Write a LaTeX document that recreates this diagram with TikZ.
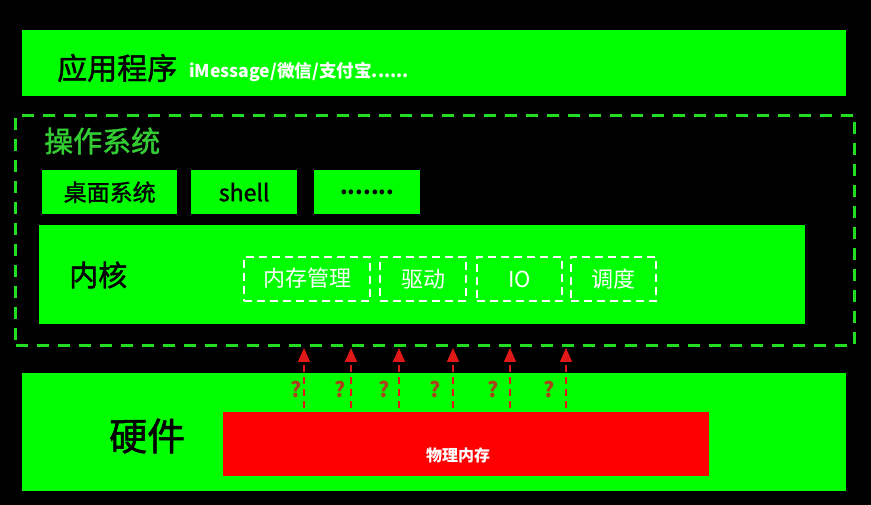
\documentclass[tikz,border=0pt]{standalone}
\usepackage{fontspec}
\setmainfont{Noto Sans CJK SC}
\newfontfamily\medf[FakeBold=1.5]{Noto Sans CJK SC}
\usetikzlibrary{arrows.meta}
\definecolor{lgreen}{HTML}{00FF00}
\definecolor{dgreen}{HTML}{22DD22}
\definecolor{tgreen}{HTML}{33CC33}
\definecolor{aread}{HTML}{E01818}
\definecolor{qbrown}{HTML}{A8421C}
\definecolor{mred}{HTML}{FF0000}
\tikzset{
  gbox/.style={draw=none,fill=lgreen,inner sep=0pt},
  wdash/.style={draw=white,line width=2pt,dash pattern=on 8pt off 5pt,inner sep=0pt,minimum height=44pt,text=white,font=\fontsize{22}{22}\selectfont},
  upar/.style={draw=aread,line width=1.6pt,dash pattern=on 7pt off 5pt,-{Triangle[width=12pt,length=14pt]}},
  qm/.style={text=qbrown,font=\fontsize{21}{21}\selectfont\bfseries,inner sep=0pt}
}
\begin{document}
\begin{tikzpicture}[x=1pt,y=-1pt]
\fill[black] (0,0) rectangle (871,505);
\useasboundingbox (0,0) rectangle (871,505);
% application bar
\node[gbox,minimum width=824pt,minimum height=66pt,anchor=north west] (app) at (22,30) {};
\node[anchor=west,inner sep=0pt,font=\fontsize{30}{30}\selectfont\medf] (apptitle) at (57,68) {应用程序};
\node[anchor=west,inner sep=0pt,text=white,font=\fontsize{17.6}{17.6}\selectfont\bfseries] (appex) at (189,72) {iMessage/微信/支付宝......};
% OS dashed box
\node[draw=dgreen,line width=3pt,dash pattern=on 12pt off 9pt,minimum width=839pt,minimum height=230pt,anchor=north west,inner sep=0pt] (os) at (14,114) {};
\node[anchor=west,inner sep=0pt,text=tgreen,font=\fontsize{29}{29}\selectfont\medf] (ostitle) at (44,141) {操作系统};
\node[gbox,minimum width=135pt,minimum height=44pt,anchor=north west,font=\fontsize{23}{23}\selectfont\medf] (desk) at (42,170) {\raisebox{-3pt}{桌面系统}};
\node[gbox,minimum width=106pt,minimum height=44pt,anchor=north west,font=\fontsize{23}{23}\selectfont\medf] (shell) at (191,170) {shell};
\node[gbox,minimum width=106pt,minimum height=44pt,anchor=north west,font=\fontsize{22}{22}\selectfont\bfseries] (more) at (314,170) {.......};
% kernel
\node[gbox,minimum width=766pt,minimum height=99pt,anchor=north west] (kernel) at (39,225) {};
\node[anchor=west,inner sep=0pt,font=\fontsize{29}{29}\selectfont\medf] (ktitle) at (69,275) {内核};
\node[wdash,minimum width=126pt,anchor=north west] (mem) at (243,256) {\raisebox{3pt}{内存管理}};
\node[wdash,minimum width=86pt,anchor=north west] (drv) at (379,256) {驱动};
\node[wdash,minimum width=85pt,anchor=north west] (io) at (476,256) {IO};
\node[wdash,minimum width=85pt,anchor=north west] (sched) at (570,256) {调度};
% hardware
\node[gbox,minimum width=824pt,minimum height=118pt,anchor=north west] (hw) at (22,373) {};
\node[anchor=west,inner sep=0pt,font=\fontsize{38}{38}\selectfont\medf] (hwtitle) at (109,436) {硬件};
\node[fill=mred,minimum width=486pt,minimum height=64pt,anchor=north west,inner sep=0pt] (pm) at (223,412) {};
\node[text=white,inner sep=0pt,font=\fontsize{16}{16}\selectfont\bfseries] (pmlabel) at (458,455) {物理内存};
% arrows
\foreach \i/\x/\q in {1/304/296,2/351/340,3/399/384,4/453/435,5/510/493,6/566/549}{
  \coordinate (a\i) at (\x,408);
  \coordinate (b\i) at (\x,348);
  \draw[upar] (a\i) -- (b\i);
  \node[qm] (q\i) at (\q,389) {?};
}
\end{tikzpicture}
\end{document}
